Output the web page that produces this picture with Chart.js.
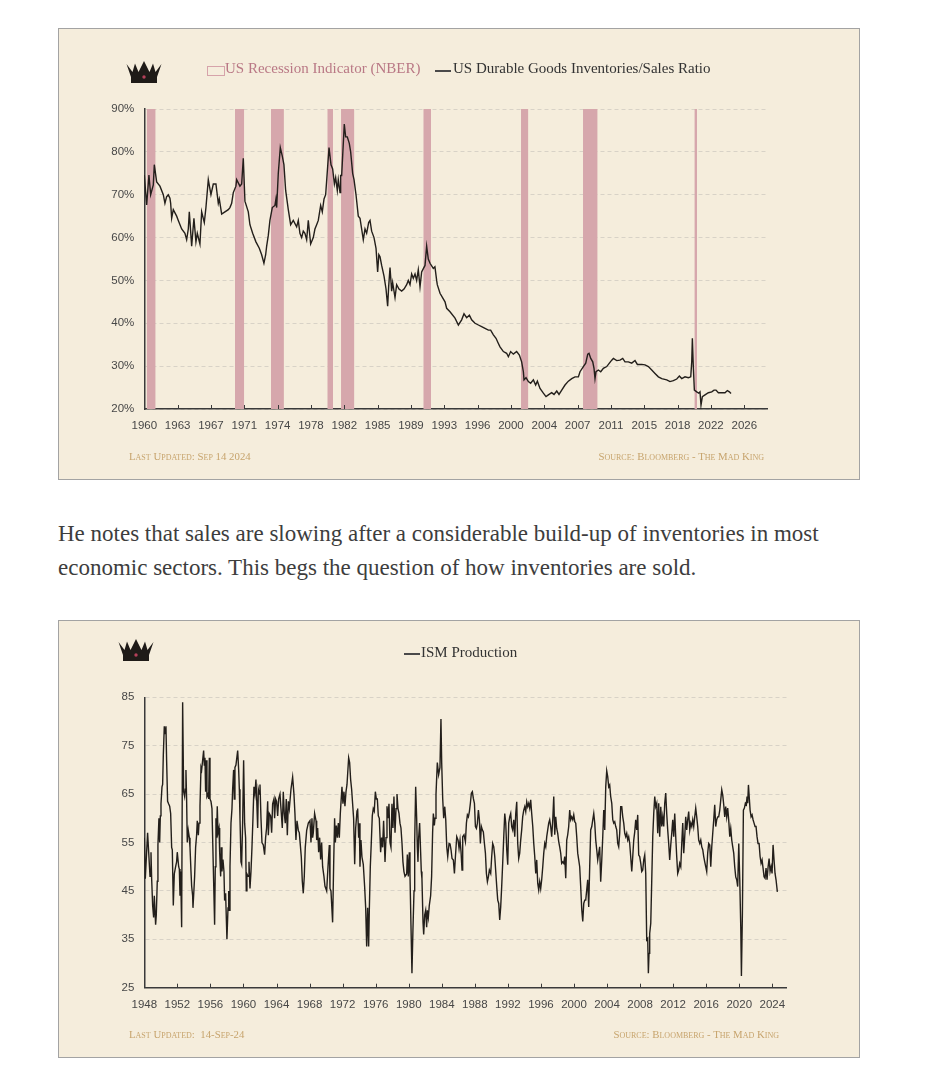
<!DOCTYPE html>
<html>
<head>
<meta charset="utf-8">
<script src="https://cdn.jsdelivr.net/npm/chart.js@4.4.1/dist/chart.umd.min.js"></script>
<style>
  body { margin: 0; background: #fff; width: 941px; height: 1080px; position: relative; overflow: hidden; }
  .panel { position: absolute; left: 58px; width: 802px; background: #f5eddc; border: 1px solid #a3a3a3; box-sizing: border-box; }
  .panel canvas { position: absolute; left: 0; top: 0; }
  .crown { position: absolute; }
  .lg { position: absolute; font-family: "Liberation Serif", serif; font-size: 15px; line-height: 20px; white-space: nowrap; }
  .foot { position: absolute; font-family: "Liberation Serif", serif; font-variant: small-caps; font-size: 10.8px; color: #c7a46d; line-height: 14px; white-space: nowrap; }
  .para { position: absolute; left: 58px; font-family: "Liberation Serif", serif; font-size: 23px; line-height: 23px; color: #3d3d3d; white-space: nowrap; }
</style>
</head>
<body>

<div class="panel" style="top:28px;height:452px">
  <canvas id="ratioChart" width="800" height="450"></canvas>
  <svg class="crown" style="left:67px;top:32px" width="36" height="22" viewBox="0 0 36 22">
    <path d="M5 22 L5 16 L0.5 3 L6.5 11 L9 2.5 L12.5 11 L18 0 L23.5 11 L27 2.5 L29.5 11 L35.5 3 L31 16 L31 22 Z" fill="#1f1b18"/>
    <circle cx="18" cy="16" r="1.7" fill="#b5405a"/>
  </svg>
  <div class="lg" style="left:148px;top:37px;width:16px;height:8px;border:1px solid #d6a3aa"></div>
  <div class="lg" style="left:166px;top:29px;color:#b97885">US Recession Indicator (NBER)</div>
  <div class="lg" style="left:376px;top:41px;width:16px;height:2px;background:#4a4a4a"></div>
  <div class="lg" style="left:394px;top:29px;color:#333">US Durable Goods Inventories/Sales Ratio</div>
  <div class="foot" style="left:70px;top:420px">Last Updated: Sep 14 2024</div>
  <div class="foot" style="right:95px;top:420px">Source: Bloomberg - The Mad King</div>
</div>

<div class="para" style="top:522px">He notes that sales are slowing after a considerable build-up of inventories in most</div>
<div class="para" style="top:556px">economic sectors. This begs the question of how inventories are sold.</div>

<div class="panel" style="top:620px;height:438px">
  <canvas id="ismChart" width="800" height="436"></canvas>
  <svg class="crown" style="left:59px;top:18px" width="36" height="22" viewBox="0 0 36 22">
    <path d="M5 22 L5 16 L0.5 3 L6.5 11 L9 2.5 L12.5 11 L18 0 L23.5 11 L27 2.5 L29.5 11 L35.5 3 L31 16 L31 22 Z" fill="#1f1b18"/>
    <circle cx="18" cy="16" r="1.7" fill="#b5405a"/>
  </svg>
  <div class="lg" style="left:345px;top:32px;width:16px;height:2px;background:#4a4a4a"></div>
  <div class="lg" style="left:362px;top:21px;color:#333">ISM Production</div>
  <div class="foot" style="left:70px;top:406px">Last Updated:&nbsp;&nbsp;14-Sep-24</div>
  <div class="foot" style="right:80px;top:406px">Source: Bloomberg - The Mad King</div>
</div>

<script>
// US durable goods inventories / sales ratio (%)
const ratioYears = [
  1960.00,1960.26,1960.51,1960.70,1960.99,1961.10,1961.36,1961.72,1962.09,1962.27,
  1962.45,1962.64,1962.82,1962.90,1963.01,1963.19,1963.56,1963.74,1964.11,1964.47,
  1964.66,1964.84,1964.95,1965.21,1965.46,1965.68,1965.83,1966.12,1966.31,1966.60,
  1966.78,1967.04,1967.33,1967.59,1967.88,1968.14,1968.25,1968.51,1968.87,1969.24,
  1969.42,1969.61,1969.79,1970.08,1970.16,1970.52,1970.71,1970.89,1971.07,1971.44,
  1971.62,1971.92,1972.28,1972.65,1972.91,1973.16,1973.35,1973.46,1973.64,1973.82,
  1974.08,1974.37,1974.48,1974.56,1974.74,1974.96,1975.18,1975.36,1975.55,1975.84,
  1976.10,1976.39,1976.76,1976.94,1977.12,1977.31,1977.49,1977.67,1977.86,1978.04,
  1978.30,1978.59,1978.77,1978.96,1979.14,1979.40,1979.58,1979.77,1979.95,1980.32,
  1980.54,1980.72,1980.91,1981.05,1981.23,1981.34,1981.53,1981.60,1981.71,1981.82,
  1982.00,1982.15,1982.33,1982.55,1982.70,1982.92,1983.07,1983.29,1983.54,1983.73,
  1983.91,1984.09,1984.28,1984.46,1984.68,1984.83,1985.01,1985.27,1985.49,1985.67,
  1985.80,1985.93,1986.11,1986.37,1986.59,1986.77,1986.88,1987.03,1987.21,1987.32,
  1987.58,1987.76,1988.02,1988.31,1988.57,1988.86,1989.04,1989.23,1989.41,1989.59,
  1989.78,1989.96,1990.14,1990.33,1990.51,1990.88,1991.06,1991.24,1991.43,1991.79,
  1991.97,1992.16,1992.23,1992.53,1993.08,1993.26,1993.63,1994.18,1994.55,1994.91,
  1995.17,1995.46,1995.76,1996.01,1996.38,1996.75,1997.11,1997.48,1997.85,1998.10,
  1998.40,1998.69,1998.95,1999.13,1999.50,1999.86,2000.05,2000.30,2000.60,2000.96,
  2001.26,2001.51,2001.70,2001.77,2001.99,2002.25,2002.50,2002.80,2003.05,2003.24,
  2003.53,2003.90,2004.19,2004.45,2004.81,2005.07,2005.37,2005.62,2005.92,2006.28,
  2006.65,2007.02,2007.38,2007.75,2007.93,2008.30,2008.56,2008.78,2008.92,2009.11,
  2009.33,2009.47,2009.58,2009.69,2009.95,2010.21,2010.50,2010.87,2011.16,2011.42,
  2011.60,2011.97,2012.33,2012.63,2012.88,2013.25,2013.62,2013.98,2014.24,2014.72,
  2015.08,2015.45,2015.82,2016.18,2016.55,2016.92,2017.47,2017.83,2018.20,2018.57,
  2018.86,2019.12,2019.48,2019.85,2020.11,2020.22,2020.29,2020.40,2020.51,2020.77,
  2020.99,2021.13,2021.24,2021.39,2021.68,2022.05,2022.42,2022.67,2022.89,2023.15,
  2023.52,2023.88,2024.14,2024.36,2024.54
];
const ratioValues = [
  74.6,67.6,74.6,70,72.3,77,73,72,70,68,
  69.5,70,69.2,68,64.5,66.5,65,64,62,61,
  59.5,62,66,58,64.5,59,61,58.5,66,63.5,
  67,73.5,70,72.5,72.5,68,69,65.5,66,66.5,
  67,68,70.5,72,73.5,72,72.5,78.5,68.5,66,
  63,61,59,57.5,56,54,56,58,60.5,64,
  67,67.5,69,67,75,81,79,77,71,66.5,
  63,64,62.5,64,61,60,61.5,61,59.5,64,
  58.5,60,62,63,64,67.5,66,69,70,81,
  77,76,72.5,74,71,73.5,70.5,74.5,74.5,79,
  86.5,83.5,83.5,82,80,75,73.5,70,65,64.5,
  62,59.5,62,61,63.5,64,61.5,60,57.5,52,
  56,55.5,53.5,51,48,44,48.5,53,47.5,49.5,
  46,49,48,47.5,48,49,50,49,51.5,50.5,
  51.5,50,52.5,48.5,52,53.5,58,55,54,52.8,
  53.2,50,49,47,45,43.5,42.7,41.2,39.6,40.8,
  42.2,41.3,41.9,40.8,40,39.6,39.2,38.8,38.4,38.4,
  37.3,36.5,35.3,34.5,33.4,33,32.2,33.4,32.8,33.4,
  32.6,31,28.7,26.8,27.3,26.4,26,26.8,25.6,26.5,
  24.8,23.7,22.9,23.3,23.8,23.4,24.2,23.4,24.4,25.6,
  26.5,27.1,27.5,27.5,28.7,29.9,30.7,32.8,33,31.8,
  31,29.5,27.1,28.7,29.1,28.7,29.5,29.9,30.7,31.4,
  31.8,31.3,31.4,31.8,31,31,30.7,31.3,30.4,30.4,
  30.3,29.9,29.1,28.3,27.5,27.1,26.8,26.4,26.6,27,
  27.7,27.1,27.5,27.3,27.5,31,36.5,29.5,24.4,24,
  23.7,24,20.9,22.9,23.3,23.8,24,24.4,24.4,23.8,
  23.8,23.8,24.3,24,23.6
];

// NBER recession shading (start / end, as drawn)
const recessionStart = [1960.26, 1969.97, 1973.93, 1980.13, 1981.64, 1990.69, 2001.44, 2008.26, 2020.51];
const recessionEnd   = [1961.25, 1970.99, 1975.36, 1980.76, 1983.11, 1991.54, 2002.25, 2009.87, 2020.80];

// top chart x axis: one tick every 44 months
const ratioTickYears = [1960, 1963.67, 1967.33, 1971, 1974.67, 1978.33, 1982, 1985.67, 1989.33, 1993,
  1996.67, 2000.33, 2004, 2007.67, 2011.33, 2015, 2018.67, 2022.33, 2026];
const ratioTickLabels = ['1960','1963','1967','1971','1974','1978','1982','1985','1989','1993',
  '1996','2000','2004','2007','2011','2015','2018','2022','2026'];

// ISM production index
const ismYears = [
  1948.00,1948.12,1948.40,1948.69,1948.81,1948.89,1949.01,1949.13,1949.21,1949.37,
  1949.45,1949.57,1949.65,1949.77,1949.86,1949.94,1950.02,1950.14,1950.22,1950.30,
  1950.42,1950.54,1950.62,1950.70,1950.82,1950.94,1951.07,1951.19,1951.31,1951.39,
  1951.51,1951.63,1951.79,1951.91,1951.99,1952.16,1952.24,1952.32,1952.40,1952.52,
  1952.64,1952.76,1952.88,1952.96,1953.04,1953.12,1953.20,1953.32,1953.45,1953.53,
  1953.65,1953.73,1953.85,1953.89,1953.97,1954.09,1954.21,1954.33,1954.41,1954.54,
  1954.62,1954.74,1954.86,1954.94,1955.06,1955.18,1955.26,1955.34,1955.42,1955.50,
  1955.58,1955.70,1955.79,1955.87,1955.95,1956.07,1956.19,1956.35,1956.51,1956.59,
  1956.67,1956.75,1956.83,1956.92,1957.04,1957.12,1957.24,1957.32,1957.40,1957.52,
  1957.64,1957.72,1957.84,1958.00,1958.13,1958.21,1958.29,1958.37,1958.49,1958.61,
  1958.69,1958.81,1958.89,1958.97,1959.09,1959.30,1959.42,1959.50,1959.58,1959.70,
  1959.78,1959.90,1960.02,1960.14,1960.26,1960.34,1960.42,1960.55,1960.67,1960.79,
  1960.91,1961.03,1961.15,1961.27,1961.39,1961.51,1961.59,1961.72,1961.80,1961.92,
  1962.00,1962.12,1962.24,1962.40,1962.56,1962.68,1962.80,1962.93,1963.01,1963.13,
  1963.29,1963.41,1963.53,1963.69,1963.77,1963.89,1964.01,1964.14,1964.26,1964.42,
  1964.54,1964.70,1964.82,1964.94,1965.06,1965.18,1965.31,1965.43,1965.55,1965.75,
  1965.95,1966.11,1966.23,1966.35,1966.48,1966.64,1966.76,1966.88,1967.00,1967.12,
  1967.24,1967.36,1967.48,1967.65,1967.85,1968.05,1968.17,1968.29,1968.37,1968.45,
  1968.61,1968.78,1968.86,1968.98,1969.10,1969.22,1969.34,1969.46,1969.58,1969.74,
  1969.86,1970.07,1970.23,1970.39,1970.47,1970.59,1970.79,1970.91,1971.03,1971.12,
  1971.24,1971.36,1971.48,1971.60,1971.72,1971.92,1972.04,1972.16,1972.28,1972.41,
  1972.53,1972.73,1972.85,1972.97,1973.09,1973.21,1973.33,1973.46,1973.58,1973.74,
  1973.82,1973.94,1974.02,1974.10,1974.22,1974.34,1974.50,1974.66,1974.79,1974.91,
  1975.03,1975.15,1975.23,1975.35,1975.47,1975.59,1975.71,1975.83,1975.96,1976.08,
  1976.20,1976.32,1976.44,1976.60,1976.72,1976.84,1976.96,1977.13,1977.25,1977.37,
  1977.49,1977.61,1977.73,1977.85,1977.97,1978.09,1978.21,1978.34,1978.46,1978.58,
  1978.70,1978.82,1978.94,1979.06,1979.18,1979.30,1979.42,1979.55,1979.75,1979.83,
  1979.95,1980.07,1980.15,1980.27,1980.39,1980.51,1980.64,1980.72,1980.84,1980.96,
  1981.04,1981.12,1981.20,1981.32,1981.44,1981.52,1981.60,1981.73,1981.81,1981.93,
  1982.05,1982.17,1982.25,1982.37,1982.49,1982.65,1982.77,1982.89,1982.98,1983.10,
  1983.18,1983.30,1983.46,1983.62,1983.78,1983.90,
  1983.99,1984.11,1984.23,1984.36,1984.48,1984.60,1984.72,1984.88,1985.00,1985.12,
  1985.24,1985.40,1985.53,1985.65,1985.81,1985.97,1986.09,1986.21,1986.33,1986.45,
  1986.53,1986.69,1986.86,1986.98,1987.10,1987.22,1987.34,1987.46,1987.58,1987.70,
  1987.82,1987.95,1988.07,1988.19,1988.31,1988.43,1988.55,1988.67,1988.79,1988.91,
  1989.03,1989.16,1989.28,1989.40,1989.52,1989.64,1989.76,1989.92,1990.04,1990.16,
  1990.29,1990.41,1990.53,1990.65,1990.77,1990.89,1991.01,1991.13,1991.25,1991.37,
  1991.50,1991.62,1991.74,1991.86,1991.98,1992.10,1992.22,1992.34,1992.46,1992.58,
  1992.71,1992.83,1992.95,1993.07,1993.19,1993.31,1993.43,1993.55,1993.67,1993.79,
  1993.92,1994.04,1994.16,1994.28,1994.40,1994.52,1994.64,1994.76,1994.88,1995.01,
  1995.13,1995.25,1995.37,1995.49,1995.61,1995.73,1995.85,1995.97,1996.09,1996.22,
  1996.34,1996.46,1996.58,1996.70,1996.82,1996.94,1997.06,1997.18,1997.30,1997.43,
  1997.55,1997.67,1997.79,1997.91,1998.03,1998.15,1998.27,1998.39,1998.51,1998.64,
  1998.76,1998.88,1999.00,1999.12,1999.24,1999.36,1999.48,1999.60,1999.72,1999.85,
  1999.97,2000.09,2000.21,2000.33,2000.45,2000.57,2000.69,2000.81,2000.94,2001.06,
  2001.18,2001.30,2001.42,2001.54,2001.66,2001.78,2001.90,2002.02,2002.15,2002.27,
  2002.39,2002.51,2002.63,2002.75,2002.87,2002.99,2003.11,2003.23,2003.36,2003.48,
  2003.60,2003.72,2003.84,2003.96,2004.08,2004.20,2004.32,2004.44,2004.57,2004.69,
  2004.81,2004.93,2005.05,2005.17,2005.29,2005.41,2005.53,2005.65,2005.78,2005.90,
  2006.02,2006.14,2006.26,2006.38,2006.50,2006.62,2006.74,2006.86,2006.99,2007.11,
  2007.23,2007.35,2007.47,2007.59,2007.71,2007.83,2007.95,2008.08,2008.20,2008.32,
  2008.44,2008.56,2008.68,2008.80,2008.92,2009.00,2009.08,2009.16,2009.29,2009.41,
  2009.53,2009.65,2009.77,2009.89,2010.01,2010.13,2010.25,2010.37,2010.50,2010.62,
  2010.74,2010.86,2010.98,2011.10,2011.22,2011.34,2011.46,2011.58,2011.71,2011.83,
  2011.95,2012.07,2012.19,2012.31,2012.43,2012.55,2012.67,2012.79,2012.92,2013.04,
  2013.16,2013.28,2013.40,2013.52,2013.64,2013.76,2013.88,2014.01,2014.13,2014.25,
  2014.37,2014.49,2014.61,2014.73,2014.85,2014.97,2015.09,2015.22,2015.34,2015.46,
  2015.58,2015.70,2015.82,2015.94,2016.06,2016.18,2016.30,2016.43,2016.55,2016.67,
  2016.79,2016.91,2017.03,2017.15,2017.27,2017.39,2017.51,2017.64,2017.76,2017.88,
  2018.00,2018.12,2018.24,2018.36,2018.48,2018.60,2018.72,2018.85,2018.97,2019.09,
  2019.21,2019.33,2019.45,2019.57,2019.69,2019.81,2019.94,2020.06,2020.18,2020.26,
  2020.38,2020.50,2020.62,2020.74,2020.86,2020.94,2021.02,2021.11,2021.19,2021.31,
  2021.43,2021.55,2021.67,2021.79,2021.91,2022.03,2022.15,2022.27,2022.40,2022.52,
  2022.64,2022.76,2022.88,2023.00,2023.12,2023.24,2023.36,2023.49,2023.61,2023.73,
  2023.85,2023.97,2024.09,2024.21,2024.33,2024.45,2024.61
];
const ismValues = [
  56,47.5,57,48,53,47.5,42,39.5,44,38,
  40,47,54.5,60,55,60.5,63,66.5,67,73,
  79,77.5,79,72,63.5,63,62.5,61,54,53.5,
  42,48.5,50,51,53,50,49.5,44,49,37.5,
  84,65.5,64.5,66,70,64,55,57.5,56,54,
  49,46,44,41.5,44,48,54,56.5,59.5,56.5,
  59,62.5,70.5,70,72,74,71,72.5,65.5,72,
  64.5,65,64,72.5,64,63.5,62,50,38,50,
  60,56,62.5,57,58,53,48,54,49,51.5,
  49,43,44.5,35,41.5,45,41,50,59,62,
  66,70,64,70.5,71,74,70,66,60,51,
  50.5,59,72,59,56,45,48.5,48,51,45.5,
  49,54,60,66.5,65,68,64.5,58,66,65,
  67,60,55,54.5,52.5,56,58,63.5,56.5,61,
  60.5,57,63,64,60,64,63.5,60.5,64,65,
  62,58,65.5,61,59,64,56.5,63.5,62,66,
  68.5,65,61,55.5,59.5,57.5,57,54.5,52,47,
  44.5,48,54,57.5,59,59.5,55,60,56,57,
  61,59.5,55.5,58,53,56,51.5,55,50,48,
  46,45,50,54.5,45.5,45,38.5,50,60,55,
  58.5,56,59,56,61,66.5,63,65.5,62.5,65.5,
  67,72.5,71.5,68,66,63,60,50.5,58,61.5,
  62,56,59,50,55.5,52,50.5,46,41.5,33.5,
  41.5,33.5,41,50,55,60.5,62,61.5,65.5,64,
  64,60.5,60,53,56,54,59.5,51,56,62.5,
  60,63,55,54,63,58,64.5,57,62,65,
  62,61,59,58,55,51,49,48,48.5,52.5,
  48,53,48.5,38,28,37,45,55,66.5,60,
  54,51,56,59,53,49,47.5,38.5,36,40,
  41,37.5,41,39.5,42,44,48,57,61,58.5,
  60,65,71.5,69,70.5,80.5,
  71.4,64.1,60,62.4,59.7,54.1,52.1,54.8,54.7,53.5,
  51.7,51.4,48.6,52.1,56.2,55.5,53.8,55.5,53.1,49.3,
  56.2,56.6,55.2,59,60.7,60.3,61.4,63.1,65.2,65.5,
  64.1,63.1,58.3,57.9,59,61.7,59.7,54.8,58.3,57.6,
  57.2,54.8,52.8,48.6,46.9,47.9,49.3,48.6,52.1,54.8,
  54.1,52.1,49,45.9,43.1,42.4,39,41.7,45.9,50.7,
  56.2,61,59,53.5,50.4,59,60.3,61,58.3,57.6,
  59.7,56.2,61,63.4,54.8,51.7,52.8,55.5,57.6,60.3,
  61.7,62.4,61.4,63.4,62.4,63.1,62.1,63.8,61,58.3,
  54.8,52.1,48.6,51.4,46.6,45.2,46.9,45.5,47.3,50,
  52.8,54.8,54.1,56.2,57.6,59,59.7,58.3,56.2,59.7,
  64.5,56.6,60.3,57.9,56.9,55.2,54.1,52.8,50.7,51,
  50.7,52.1,47.6,55.5,56.6,58.3,61.7,59.7,60.3,59.7,
  60.7,59.3,59,56.2,52.8,51.4,50,45.9,41.1,38.7,
  42.4,43.1,43.1,45.2,47.3,41.7,50,57.6,58.3,59.7,
  61,59,55.5,53.5,51.4,52.8,54.1,46.9,51.4,56.2,
  61.7,57.6,66.5,69.8,68.6,66.5,66.9,64.5,63.1,59.7,
  59,59.3,58.3,57.6,54.8,54.1,56.9,62.4,62.4,60.3,
  59,56.9,56.2,56.9,55.5,56.2,54.8,52.1,49,52.1,
  55.5,57.2,59.7,57.6,60.7,52.4,52.1,50.7,49,49.3,
  51.4,52.4,48.6,34.9,35.2,28,32.1,36.2,38.3,47.3,
  56.2,61,64.5,62.4,63.1,56.9,63.1,56.2,62.4,58.3,
  60.3,58.3,63.1,65.2,61,57.6,54.8,51.4,54.5,56.9,
  59.7,56.2,61,56.2,52.1,48.6,49.3,50.7,50,54.8,
  59,52.8,56.2,60.3,57.6,59.7,61.4,57.6,59,58.3,
  59.7,58.3,60.3,62.1,60.3,58.3,55.5,54.8,55.5,54.1,
  53.5,52.1,51,50,49,52.8,54.8,54.5,50,54.1,
  56.9,59.7,62.8,58.3,59.7,60.3,60.3,61.7,63.8,65.9,
  64.8,62.8,60.3,62.4,60.3,62.1,59.7,56.2,57.9,55.5,
  54.1,52.8,50,47.9,47.3,45.9,54.8,47.3,37.6,27.4,
  40.4,61.7,62.1,63.1,62.8,64.5,63.1,66.9,64.8,61.7,
  60.3,60.7,59.7,59,58.3,58.3,56.2,54.8,54.8,52.1,
  50.7,51.4,49.7,47.9,47.6,49.7,47.3,50,51.7,49,
  50,48.6,54.5,51.4,48.6,47.3,44.8
];

const ismTickYears = [1948,1952,1956,1960,1964,1968,1972,1976,1980,1984,
  1988,1992,1996,2000,2004,2008,2012,2016,2020,2024];
const ismTickLabels = ismTickYears.map(String);

if (ratioYears.length !== ratioValues.length) throw new Error('ratio lengths ' + ratioYears.length + ' vs ' + ratioValues.length);
if (ismYears.length !== ismValues.length) throw new Error('ism lengths ' + ismYears.length + ' vs ' + ismValues.length);

// small tick marks pointing up from the x axis
const upTicks = {
  id: 'upTicks',
  afterDraw(chart) {
    const xs = chart.scales.x, ctx = chart.ctx, y0 = chart.chartArea.bottom;
    ctx.save();
    ctx.strokeStyle = '#3a3a3a';
    ctx.lineWidth = 1;
    xs.ticks.forEach(t => {
      const px = Math.round(xs.getPixelForValue(t.value)) + 0.5;
      ctx.beginPath();
      ctx.moveTo(px, y0);
      ctx.lineTo(px, y0 - 4);
      ctx.stroke();
    });
    ctx.restore();
  }
};

const tickFont = { family: 'Liberation Sans', size: 11.5 };

function makeOptions(o) {
  return {
    responsive: false,
    animation: false,
    layout: { padding: o.padding },
    plugins: { legend: { display: false }, tooltip: { enabled: false } },
    scales: {
      x: {
        type: 'linear',
        min: o.xMin,
        max: o.xMax,
        afterBuildTicks: s => { s.ticks = o.tickYears.map(v => ({ value: v })); },
        afterFit: s => { s.height = 30; },
        grid: { display: false },
        border: { display: true, color: '#3a3a3a', width: 1.5 },
        ticks: { autoSkip: false, maxRotation: 0, padding: 2, color: '#474747', font: tickFont,
          callback: (v, i) => o.tickLabels[i] }
      },
      y: {
        min: o.yMin,
        max: o.yMax,
        afterFit: s => { s.width = 85.3; },
        grid: { color: '#d8d2c7', lineWidth: 1, drawTicks: false },
        border: { display: true, color: '#3a3a3a', width: 1.5, dash: [4, 3] },
        ticks: { stepSize: 10, padding: 10, color: '#474747', font: tickFont, callback: o.yFormat }
      }
    }
  };
}

// recession blocks as filled segments separated by gaps
const recessionPoints = [];
recessionStart.forEach((s, i) => {
  recessionPoints.push({ x: s, y: 90 }, { x: recessionEnd[i], y: 90 }, { x: recessionEnd[i], y: null });
});

new Chart(document.getElementById('ratioChart'), {
  type: 'line',
  data: {
    datasets: [
      {
        label: 'US Durable Goods Inventories/Sales Ratio',
        data: ratioYears.map((x, i) => ({ x: x, y: ratioValues[i] })),
        borderColor: '#231f1b',
        borderWidth: 1.4,
        pointRadius: 0,
        tension: 0,
        order: 1
      },
      {
        label: 'US Recession Indicator (NBER)',
        data: recessionPoints,
        backgroundColor: '#d6a7ac',
        borderColor: 'transparent',
        borderWidth: 1,
        pointRadius: 0,
        fill: 'start',
        spanGaps: false,
        order: 2
      }
    ]
  },
  options: makeOptions({
    padding: { left: 0, top: 80, right: 92, bottom: 40 },
    xMin: 1960, xMax: 2028.5,
    tickYears: ratioTickYears, tickLabels: ratioTickLabels,
    yMin: 20, yMax: 90,
    yFormat: v => v + '%'
  }),
  plugins: [upTicks]
});

new Chart(document.getElementById('ismChart'), {
  type: 'line',
  data: {
    datasets: [{
      label: 'ISM Production',
      data: ismYears.map((x, i) => ({ x: x, y: ismValues[i] })),
      borderColor: '#231f1b',
      borderWidth: 1.4,
      pointRadius: 0,
      tension: 0
    }]
  },
  options: makeOptions({
    padding: { left: 0, top: 76.3, right: 72.3, bottom: 39.3 },
    xMin: 1948, xMax: 2025.74,
    tickYears: ismTickYears, tickLabels: ismTickLabels,
    yMin: 25, yMax: 85,
    yFormat: v => String(v)
  }),
  plugins: [upTicks]
});
</script>
</body>
</html>
